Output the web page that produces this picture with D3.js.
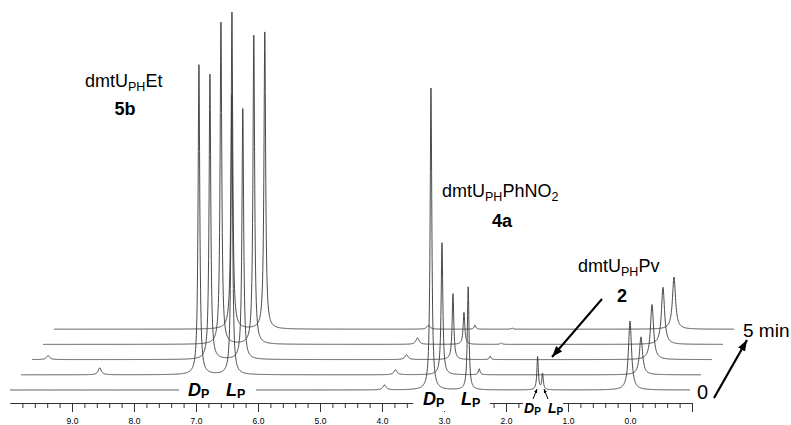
<!DOCTYPE html>
<html lang="en">
<head>
<meta charset="UTF-8">
<title>Stacked 31P NMR spectra</title>
<script src="https://d3js.org/d3.v7.min.js"></script>
<style>
  html, body { margin: 0; padding: 0; background: #fff; }
  svg text { font-family: Arial, 'Liberation Sans', sans-serif; fill: #000; }
</style>
</head>
<body>
<svg id="chart" width="791" height="425"></svg>
<script>
// signals present in the spectra (ppm) and their half widths
const peakNames = ["5b Dp", "5b Lp", "4a Dp", "4a Lp", "2 Dp", "2 Lp", "0 ppm", "3.96 ppm", "8.73 ppm", "9.74 ppm"];
const peakPpm   = [7.13, 6.60, 3.21, 2.61, 1.49, 1.41, 0.00, 3.96, 8.73, 9.74];
const peakHwhm  = [0.016, 0.016, 0.016, 0.016, 0.014, 0.014, 0.03, 0.03, 0.03, 0.03];

// intensities for each spectrum, bottom (0 min) to top (5 min)
const int0 = [0, 0, 91.5, 31.2, 10, 4.8, 20.9, 1.5, 0, 0];
const int1 = [93.9, 84.8, 40, 1.8, 0, 0, 11.5, 1.5, 2.1, 0];
const int2 = [86.4, 76, 20, 1.0, 0, 0, 16.7, 1.5, 0, 1.2];
const int3 = [97.6, 93.6, 9.7, 0.5, 0, 0, 17.3, 2.0, 0, 0];
const int4 = [96, 90, 1.2, 0.3, 0, 0, 15.8, 1.2, 0, 0];
const spectra = [int0, int1, int2, int3, int4];

const majorTicks = [9, 8, 7, 6, 5, 4, 3, 2, 1, 0, -1];
const tickLabels = ["9.0", "8.0", "7.0", "6.0", "5.0", "4.0", "3.0", "2.0", "1.0", "0.0", ""];

const svg = d3.select("#chart");
const x = d3.scaleLinear().domain([10, -1]).range([10, 692]);
const y = d3.scaleLinear().domain([0, 100]).range([0, 330]);
const base = 390, stepY = 15.2, stepX = 11;

// axis
const minor = d3.range(-5, 50).map(i => +(i * 0.2).toFixed(1)).filter(v => majorTicks.indexOf(v) < 0);
const axisY = 403;
const gMinor = svg.append("g").attr("transform", `translate(0,${axisY})`)
  .call(d3.axisBottom(x).tickValues(minor).tickSize(5).tickSizeOuter(0).tickFormat(""));
const gMajor = svg.append("g").attr("transform", `translate(0,${axisY})`)
  .call(d3.axisBottom(x).tickValues(majorTicks).tickSize(9).tickSizeOuter(0)
    .tickFormat((d, i) => tickLabels[i]));
svg.selectAll(".domain, .tick line").attr("stroke", "#333").attr("stroke-width", 1);
gMajor.selectAll(".tick text").attr("font-size", 8.5).attr("fill", "#333").attr("y", 0).attr("dy", 0)
  .attr("transform", "translate(0,21)");

// spectra
let samples = d3.range(0, 2743).map(i => 10 - i * 0.004).concat(peakPpm);
samples = samples.filter(p => p >= -0.97).sort((a, b) => b - a);
const line = d3.line().x(d => d[0]).y(d => d[1]);

spectra.forEach((ints, k) => {
  const pts = samples.map(p => {
    let v = 0;
    peakPpm.forEach((p0, j) => {
      const w = peakHwhm[j];
      v += ints[j] * w * w / (w * w + (p - p0) * (p - p0));
    });
    return [x(p) + k * stepX, base - k * stepY - y(v)];
  });
  svg.append("path").attr("d", line(pts)).attr("fill", "none")
    .attr("stroke", "#383838").attr("stroke-width", 0.9);
});

// white boxes behind the configuration labels
const boxes = [[179, 380, 77, 21], [413, 391, 77, 20], [523, 400, 40, 17]];
svg.selectAll(".box").data(boxes).enter().append("rect")
  .attr("x", d => d[0]).attr("y", d => d[1]).attr("width", d => d[2]).attr("height", d => d[3])
  .attr("fill", "#fff");

function config(letter, xp, yp, fs, fsub) {
  const t = svg.append("text").attr("x", xp).attr("y", yp).attr("font-size", fs)
    .attr("font-weight", "bold").attr("font-style", "italic").text(letter);
  t.append("tspan").attr("font-style", "normal").attr("font-size", fsub).attr("dy", 1.5).text("P");
}
config("D", 188, 396, 18, 12.5);
config("L", 226, 396, 18, 12.5);
config("D", 423, 405, 18, 12.5);
config("L", 461, 405, 18, 12.5);
config("D", 524, 413, 14, 10);
config("L", 548, 413, 14, 10);

// compound names
function name(xp, yp, parts) {
  const t = svg.append("text").attr("x", xp).attr("y", yp).attr("font-size", 18);
  let shift = 0;
  parts.forEach(p => {
    const sub = p[1];
    const dy = (sub ? 4 : 0) - shift;
    shift = sub ? 4 : 0;
    t.append("tspan").attr("font-size", sub ? 12.5 : 18).attr("dy", dy).text(p[0]);
  });
}
name(85, 87, [["dmtU", 0], ["PH", 1], ["Et", 0]]);
name(442, 197, [["dmtU", 0], ["PH", 1], ["PhNO", 0], ["2", 1]]);
name(578, 272, [["dmtU", 0], ["PH", 1], ["Pv", 0]]);

svg.append("text").attr("x", 125).attr("y", 115).attr("text-anchor", "middle")
  .attr("font-size", 18).attr("font-weight", "bold").text("5b");
svg.append("text").attr("x", 502).attr("y", 227).attr("text-anchor", "middle")
  .attr("font-size", 18).attr("font-weight", "bold").text("4a");
svg.append("text").attr("x", 622).attr("y", 302).attr("text-anchor", "middle")
  .attr("font-size", 18).attr("font-weight", "bold").text("2");

svg.append("text").attr("x", 743).attr("y", 337).attr("font-size", 19).text("5 min");
svg.append("text").attr("x", 697).attr("y", 399).attr("font-size", 20).text("0");

// arrows
const defs = svg.append("defs");
function marker(id, len, wid) {
  defs.append("marker").attr("id", id).attr("markerUnits", "userSpaceOnUse")
    .attr("viewBox", `0 0 ${len} ${wid}`).attr("refX", len).attr("refY", wid / 2)
    .attr("markerWidth", len).attr("markerHeight", wid).attr("orient", "auto")
    .append("path").attr("d", `M0,0L${len},${wid / 2}L0,${wid}Z`).attr("fill", "#000");
}
marker("big", 11, 8);
marker("small", 4, 3.5);
const arrows = [
  [602, 299, 552, 357, 2, "big"],
  [714, 398, 747, 340, 2.2, "big"],
  [533, 399, 537, 389, 1, "small"],
  [548, 399, 544, 389, 1, "small"]
];
svg.selectAll(".arrow").data(arrows).enter().append("line")
  .attr("x1", d => d[0]).attr("y1", d => d[1]).attr("x2", d => d[2]).attr("y2", d => d[3])
  .attr("stroke", "#000").attr("stroke-width", d => d[4])
  .attr("marker-end", d => `url(#${d[5]})`);
</script>
</body>
</html>
